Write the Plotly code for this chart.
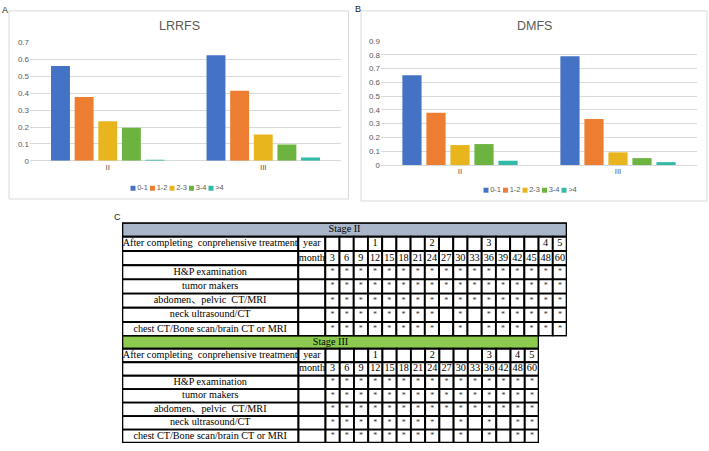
import plotly.graph_objects as go

W, H = 709, 451

# ---------------- data ----------------
stage_groups = ["II", "III"]
intervals = ["0-1", "1-2", "2-3", "3-4", ">4"]
bar_colors = ["#4472C4", "#ED7D31", "#E9B51F", "#6DB33F", "#33B9A7"]

lrrfs_0_1 = [0.561, 0.625]
lrrfs_1_2 = [0.377, 0.414]
lrrfs_2_3 = [0.234, 0.155]
lrrfs_3_4 = [0.195, 0.097]
lrrfs_gt4 = [0.006, 0.019]

dmfs_0_1 = [0.652, 0.789]
dmfs_1_2 = [0.379, 0.334]
dmfs_2_3 = [0.145, 0.092]
dmfs_3_4 = [0.152, 0.050]
dmfs_gt4 = [0.031, 0.021]

lrrfs_series = [lrrfs_0_1, lrrfs_1_2, lrrfs_2_3, lrrfs_3_4, lrrfs_gt4]
dmfs_series = [dmfs_0_1, dmfs_1_2, dmfs_2_3, dmfs_3_4, dmfs_gt4]

first_col_header = "After completing  conprehensive treatment"
exam_items = ["H&P examination", "tumor makers", "abdomen、pelvic  CT/MRI",
              "neck ultrasound/CT", "chest CT/Bone scan/brain CT or MRI"]

months_II = [3, 6, 9, 12, 15, 18, 21, 24, 27, 30, 33, 36, 39, 42, 45, 48, 60]
years_II = ["", "", "", "1", "", "", "", "2", "", "", "", "3", "", "", "", "4", "5"]
sched_II_hp = [1] * 17
sched_II_tumor = [1] * 17
sched_II_abd = [1] * 17
sched_II_neck = [1, 1, 1, 1, 1, 1, 1, 1, 0, 1, 0, 1, 1, 1, 1, 1, 1]
sched_II_chest = [1, 1, 1, 1, 1, 1, 1, 1, 0, 1, 0, 1, 1, 1, 1, 1, 1]

months_III = [3, 6, 9, 12, 15, 18, 21, 24, 27, 30, 33, 36, 42, 48, 60]
years_III = ["", "", "", "1", "", "", "", "2", "", "", "", "3", "", "4", "5"]
sched_III_hp = [1] * 15
sched_III_tumor = [1] * 15
sched_III_abd = [1] * 15
sched_III_neck = [1, 1, 1, 1, 1, 1, 1, 1, 0, 1, 0, 1, 0, 1, 1]
sched_III_chest = [1, 1, 1, 1, 1, 1, 1, 1, 0, 1, 0, 1, 0, 1, 1]

# ---------------- helpers ----------------
def px_x(p):
    return p / W

def px_y(p):
    return 1 - p / H

fig = go.Figure()

GRAY_TXT = "#595959"
SANS = "Liberation Sans"
SERIF = "Liberation Serif"

# ---------------- bar charts ----------------
for name, series, color in zip(intervals, lrrfs_series, bar_colors):
    fig.add_trace(go.Bar(x=stage_groups, y=series, name=name, marker_color=color,
                         marker_line_width=0, xaxis="x", yaxis="y", showlegend=False))
for name, series, color in zip(intervals, dmfs_series, bar_colors):
    fig.add_trace(go.Bar(x=stage_groups, y=series, name=name, marker_color=color,
                         marker_line_width=0, xaxis="x2", yaxis="y2", showlegend=False))

axis_common = dict(showline=False, ticks="", fixedrange=True,
                   tickfont=dict(family=SANS, size=8, color=GRAY_TXT))

fig.update_layout(
    xaxis=dict(domain=[px_x(30), px_x(341)], anchor="y", showgrid=False, **axis_common),
    yaxis=dict(domain=[px_y(160), px_y(39.3)], anchor="x", range=[0, 0.7], dtick=0.1,
               gridcolor="#d9d9d9", gridwidth=1, zeroline=True, zerolinecolor="#d9d9d9",
               zerolinewidth=1, **axis_common),
    xaxis2=dict(domain=[px_x(381), px_x(697)], anchor="y2", showgrid=False, **axis_common),
    yaxis2=dict(domain=[px_y(164.3), px_y(37.7)], anchor="x2", range=[0, 0.9], dtick=0.1,
                gridcolor="#d9d9d9", gridwidth=1, zeroline=True, zerolinecolor="#d9d9d9",
                zerolinewidth=1, **axis_common),
    bargap=0.24,
    bargroupgap=0.2,
    barmode="group",
)

# compact legends (one per chart) drawn on an overlay axis measured in pixels
fig.update_layout(
    xaxis5=dict(domain=[0, 1], range=[0, W], visible=False, fixedrange=True, anchor="y5"),
    yaxis5=dict(domain=[0, 1], range=[H, 0], visible=False, fixedrange=True, anchor="x5"),
)
LEG_STEP = 19.5
for center_x, center_y in [(178, 188), (531, 190)]:
    start = center_x - LEG_STEP * (len(intervals) - 1) / 2 - 6
    for i, (name, color) in enumerate(zip(intervals, bar_colors)):
        fig.add_trace(go.Scatter(
            x=[start + i * LEG_STEP], y=[center_y], mode="markers+text",
            marker=dict(symbol="square", size=5, color=color),
            text=[name], textposition="middle right",
            textfont=dict(family=SANS, size=7.5, color=GRAY_TXT),
            xaxis="x5", yaxis="y5", showlegend=False, hoverinfo="skip"))

# chart frames
fig.add_shape(type="rect", xref="paper", yref="paper", x0=px_x(9), x1=px_x(348.5),
              y0=px_y(199), y1=px_y(7), line=dict(color="#d9d9d9", width=1), layer="below")
fig.add_shape(type="rect", xref="paper", yref="paper", x0=px_x(361), x1=px_x(707),
              y0=px_y(201), y1=px_y(7), line=dict(color="#d9d9d9", width=1), layer="below")

# titles and panel letters
fig.add_annotation(text="LRRFS", x=px_x(179), y=px_y(22), xref="paper", yref="paper",
                   xanchor="center", yanchor="middle", showarrow=False,
                   font=dict(family=SANS, size=12.5, color=GRAY_TXT))
fig.add_annotation(text="DMFS", x=px_x(534), y=px_y(22), xref="paper", yref="paper",
                   xanchor="center", yanchor="middle", showarrow=False,
                   font=dict(family=SANS, size=12.5, color=GRAY_TXT))
for letter, lx, ly in [("A", 5, 6), ("B", 358, 5), ("C", 117, 217)]:
    fig.add_annotation(text=letter, x=px_x(lx), y=px_y(ly), xref="paper", yref="paper",
                       xanchor="center", yanchor="middle", showarrow=False,
                       font=dict(family=SANS, size=9, color="#222222"))

# ---------------- tables ----------------
LW = 12.4   # label column width (in month-column units)
YW = 1.9    # year/month column width

def draw_table(xa, ya, title, header_color, months, years, schedules, top_px, bot_px, right_px):
    ncol = len(months)
    total = LW + YW + ncol
    xref = "x" + xa
    yref = "y" + ya
    fig.update_layout(**{
        "xaxis" + xa: dict(domain=[px_x(122), px_x(right_px)], range=[0, total],
                           visible=False, fixedrange=True, anchor="y" + ya),
        "yaxis" + ya: dict(domain=[px_y(bot_px), px_y(top_px)], range=[8, 0],
                           visible=False, fixedrange=True, anchor="x" + xa),
    })
    line = dict(color="black", width=1.9)
    # header
    fig.add_shape(type="rect", xref=xref, yref=yref, x0=0, x1=total, y0=0, y1=1,
                  fillcolor=header_color, line=line, layer="below")
    for r in range(1, 8):
        fig.add_shape(type="rect", xref=xref, yref=yref, x0=0, x1=LW, y0=r, y1=r + 1,
                      fillcolor="white", line=line, layer="below")
        fig.add_shape(type="rect", xref=xref, yref=yref, x0=LW, x1=LW + YW, y0=r, y1=r + 1,
                      fillcolor="white", line=line, layer="below")
        for c in range(ncol):
            fig.add_shape(type="rect", xref=xref, yref=yref, x0=LW + YW + c,
                          x1=LW + YW + c + 1, y0=r, y1=r + 1, fillcolor="white",
                          line=line, layer="below")
    fig.add_shape(type="rect", xref=xref, yref=yref, x0=0, x1=total, y0=0, y1=8,
                  line=dict(color="black", width=2.6), layer="below")

    tfont = dict(family=SERIF + ", Noto Sans CJK SC", size=10.2, color="black")
    # header text
    fig.add_trace(go.Scatter(x=[total / 2], y=[0.5], text=[title], mode="text",
                             textfont=tfont, xaxis=xref, yaxis=yref, showlegend=False,
                             hoverinfo="skip"))
    # first column
    fig.add_trace(go.Scatter(x=[LW / 2] * 6, y=[1.5, 3.5, 4.5, 5.5, 6.5, 7.5],
                             text=[first_col_header] + exam_items, mode="text",
                             textfont=tfont, xaxis=xref, yaxis=yref, showlegend=False,
                             hoverinfo="skip"))
    # year / month column
    fig.add_trace(go.Scatter(x=[LW + YW / 2] * 2, y=[1.5, 2.5], text=["year", "month"],
                             mode="text", textfont=tfont, xaxis=xref, yaxis=yref,
                             showlegend=False, hoverinfo="skip"))
    cx = [LW + YW + c + 0.5 for c in range(ncol)]
    fig.add_trace(go.Scatter(x=cx, y=[1.5] * ncol, text=years, mode="text", textfont=tfont,
                             xaxis=xref, yaxis=yref, showlegend=False, hoverinfo="skip"))
    fig.add_trace(go.Scatter(x=cx, y=[2.5] * ncol, text=[str(m) for m in months],
                             mode="text", textfont=tfont, xaxis=xref, yaxis=yref,
                             showlegend=False, hoverinfo="skip"))
    sx, sy = [], []
    for i, sched in enumerate(schedules):
        for c, v in enumerate(sched):
            if v:
                sx.append(cx[c])
                sy.append(3.5 + i)
    fig.add_trace(go.Scatter(x=sx, y=sy, text=["*"] * len(sx), mode="text",
                             textfont=dict(family=SERIF, size=8, color="#333333"),
                             xaxis=xref, yaxis=yref, showlegend=False, hoverinfo="skip"))

draw_table("3", "3", "Stage II", "#A9B6CA", months_II, years_II,
           [sched_II_hp, sched_II_tumor, sched_II_abd, sched_II_neck, sched_II_chest],
           223, 339, 567)
draw_table("4", "4", "Stage III", "#8CCB4F", months_III, years_III,
           [sched_III_hp, sched_III_tumor, sched_III_abd, sched_III_neck, sched_III_chest],
           338, 448, 539)

fig.update_layout(width=W, height=H, margin=dict(l=0, r=0, t=0, b=0),
                  paper_bgcolor="white", plot_bgcolor="rgba(0,0,0,0)")

fig.write_html("out.html", config={"displayModeBar": False, "staticPlot": True},
               post_script="document.body.style.margin='0px';")
